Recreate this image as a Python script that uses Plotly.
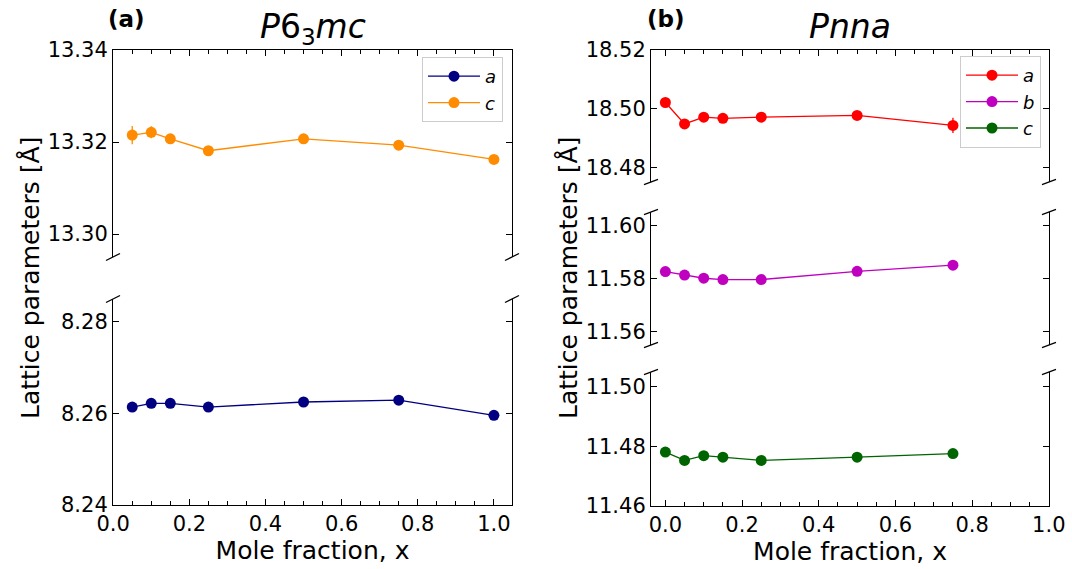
import plotly.graph_objects as go

# ---------------- data ----------------
x_hex = [0.05, 0.10, 0.15, 0.25, 0.50, 0.75, 1.00]
hex_a = [8.2614, 8.2622, 8.2622, 8.2614, 8.2625, 8.2629, 8.2596]
hex_a_err = [0.0008, 0.0008, 0.0008, 0.0008, 0.0008, 0.0008, 0.0008]
hex_c = [13.3215, 13.3221, 13.3207, 13.3181, 13.3207, 13.3193, 13.3162]
hex_c_err = [0.0020, 0.0013, 0.0010, 0.0009, 0.0010, 0.0009, 0.0009]

x_orth = [0.00, 0.05, 0.10, 0.15, 0.25, 0.50, 0.75]
orth_a = [18.5021, 18.4948, 18.4971, 18.4967, 18.4971, 18.4977, 18.4943]
orth_a_err = [0.0012, 0.0016, 0.0012, 0.0010, 0.0010, 0.0010, 0.0026]
orth_b = [11.5826, 11.5813, 11.5801, 11.5796, 11.5796, 11.5827, 11.5850]
orth_b_err = [0.0008, 0.0008, 0.0008, 0.0008, 0.0008, 0.0008, 0.0008]
orth_c = [11.4781, 11.4753, 11.4769, 11.4764, 11.4753, 11.4764, 11.4776]
orth_c_err = [0.0008, 0.0008, 0.0008, 0.0008, 0.0008, 0.0008, 0.0008]

x_ticks = [0.0, 0.2, 0.4, 0.6, 0.8, 1.0]
x_ticklabels = ["0.0", "0.2", "0.4", "0.6", "0.8", "1.0"]
ticks_hex_c = [13.30, 13.32, 13.34]
ticks_hex_a = [8.24, 8.26, 8.28]
ticks_orth_a = [18.48, 18.50, 18.52]
ticks_orth_b = [11.56, 11.58, 11.60]
ticks_orth_c = [11.46, 11.48, 11.50]

W, H = 1072, 569
FONT = "DejaVu Sans"

def px(xp):
    return xp / W

def py(yp):
    return 1 - yp / H

# panel geometry (pixels)
LX = (113, 512)
RX = (651, 1049)
dom = {
    "lt": (py(257), py(50)),
    "lb": (py(505), py(299)),
    "rt": (py(182), py(50)),
    "rm": (py(345), py(212)),
    "rb": (py(506), py(372)),
}

fig = go.Figure()

def add(x, y, err, color, name, xa, ya, legend):
    fig.add_trace(go.Scatter(
        x=x, y=y, mode="lines+markers", name=name,
        xaxis=xa, yaxis=ya, legend=legend,
        line=dict(color=color, width=1.3),
        marker=dict(color=color, size=11),
        error_y=dict(type="data", array=err, visible=True, color=color,
                     thickness=1.3, width=0),
    ))

add(x_hex, hex_a, hex_a_err, "#000080", "<i>a</i>", "x2", "y2", "legend")
add(x_hex, hex_c, hex_c_err, "#ff8c00", "<i>c</i>", "x", "y", "legend")
add(x_orth, orth_a, orth_a_err, "#ff0000", "<i>a</i>", "x3", "y3", "legend2")
add(x_orth, orth_b, orth_b_err, "#bf00bf", "<i>b</i>", "x4", "y4", "legend2")
add(x_orth, orth_c, orth_c_err, "#006400", "<i>c</i>", "x5", "y5", "legend2")

tickfont = dict(family=FONT, size=21, color="black")

def xax(domain, rng, anchor, kind):
    d = dict(domain=domain, range=rng, anchor=anchor, showgrid=False, zeroline=False,
             automargin=False,
             tickvals=x_ticks, ticktext=x_ticklabels, tickfont=tickfont,
             linecolor="black", linewidth=1.1, tickcolor="black", ticklen=6, tickwidth=1.1)
    if kind == "top":
        d.update(side="top", showline=True, ticks="inside", showticklabels=False,
                 minor=dict(ticks="inside", dtick=0.05, ticklen=3.5, tickcolor="black", tickwidth=1))
    elif kind == "bottom":
        d.update(side="bottom", showline=True, ticks="inside", showticklabels=True,
                 minor=dict(ticks="inside", dtick=0.05, ticklen=3.5, tickcolor="black", tickwidth=1),
                 title=dict(text="Mole fraction, x", font=dict(family=FONT, size=25, color="black"),
                            standoff=2))
    else:
        d.update(showline=False, ticks="", showticklabels=False)
    return d

def yax(domain, rng, anchor, tv):
    return dict(domain=domain, range=rng, anchor=anchor, showgrid=False, zeroline=False,
                automargin=False,
                tickvals=tv, ticktext=["%.2f" % v for v in tv], tickfont=tickfont,
                showline=True, mirror="ticks", linecolor="black", linewidth=1.1,
                ticks="inside", ticklen=6, tickwidth=1.1, tickcolor="black")

lxd = [px(LX[0]), px(LX[1])]
rxd = [px(RX[0]), px(RX[1])]

legfont = dict(family=FONT, size=18, color="black")
layout = dict(
    width=W, height=H, margin=dict(l=0, r=0, t=0, b=0, autoexpand=False),
    paper_bgcolor="white", plot_bgcolor="white",
    font=dict(family=FONT, color="black"),
    xaxis=xax(lxd, [-0.0005, 1.0475], "y", "top"),
    yaxis=yax(list(dom["lt"]), [13.295, 13.34], "x", ticks_hex_c),
    xaxis2=xax(lxd, [-0.0005, 1.0475], "y2", "bottom"),
    yaxis2=yax(list(dom["lb"]), [8.24, 8.285], "x2", ticks_hex_a),
    xaxis3=xax(rxd, [-0.0375, 1.0005], "y3", "top"),
    yaxis3=yax(list(dom["rt"]), [18.475, 18.52], "x3", ticks_orth_a),
    xaxis4=xax(rxd, [-0.0375, 1.0005], "y4", "none"),
    yaxis4=yax(list(dom["rm"]), [11.555, 11.605], "x4", ticks_orth_b),
    xaxis5=xax(rxd, [-0.0375, 1.0005], "y5", "bottom"),
    yaxis5=yax(list(dom["rb"]), [11.46, 11.505], "x5", ticks_orth_c),
    legend=dict(x=px(503), y=py(57), xanchor="right", yanchor="top",
                bgcolor="rgba(255,255,255,0.8)", bordercolor="#cccccc", borderwidth=1,
                font=legfont, itemwidth=52, tracegroupgap=0),
    legend2=dict(x=px(1041), y=py(56), xanchor="right", yanchor="top",
                 bgcolor="rgba(255,255,255,0.8)", bordercolor="#cccccc", borderwidth=1,
                 font=legfont, itemwidth=52, tracegroupgap=0),
    showlegend=True,
)
fig.update_layout(**layout)

# titles and panel labels
ann = []
ann.append(dict(text="<i>P</i>6<sub>3</sub><i>mc</i>", x=(lxd[0] + lxd[1]) / 2, y=py(29),
                xref="paper", yref="paper", xanchor="center", yanchor="middle", showarrow=False,
                font=dict(family=FONT, size=33, color="black")))
ann.append(dict(text="<i>Pnna</i>", x=(rxd[0] + rxd[1]) / 2, y=py(26),
                xref="paper", yref="paper", xanchor="center", yanchor="middle", showarrow=False,
                font=dict(family=FONT, size=33, color="black")))
ann.append(dict(text="<b>(a)</b>", x=px(106), y=py(19), xref="paper", yref="paper",
                xanchor="left", yanchor="middle", showarrow=False,
                font=dict(family=FONT, size=23, color="black")))
ann.append(dict(text="<b>(b)</b>", x=px(645), y=py(19), xref="paper", yref="paper",
                xanchor="left", yanchor="middle", showarrow=False,
                font=dict(family=FONT, size=23, color="black")))
for xc in (30, 568):
    ann.append(dict(text="Lattice parameters [Å]", x=px(xc), y=py(278), xref="paper", yref="paper",
                    xanchor="center", yanchor="middle", textangle=-90, showarrow=False,
                    font=dict(family=FONT, size=25, color="black")))
fig.update_layout(annotations=ann)

# break marks (diagonal slashes at the broken spine ends)
def brk(xa, ya, ypos, xw_px, h_px, dx=7, dy=3.5):
    ddx = dx / xw_px
    ddy = dy / h_px
    for xpos in (0, 1):
        fig.add_shape(type="line", xref=xa + " domain", yref=ya + " domain",
                      x0=xpos - ddx, x1=xpos + ddx, y0=ypos - ddy, y1=ypos + ddy,
                      line=dict(color="black", width=1.3))

brk("x", "y", 0, 399, 207)
brk("x2", "y2", 1, 399, 206)
brk("x3", "y3", 0, 398, 132, dy=2.7)
brk("x4", "y4", 1, 398, 133, dy=2.7)
brk("x4", "y4", 0, 398, 133, dy=2.7)
brk("x5", "y5", 1, 398, 134, dy=2.7)

fig.write_html("out.html")
